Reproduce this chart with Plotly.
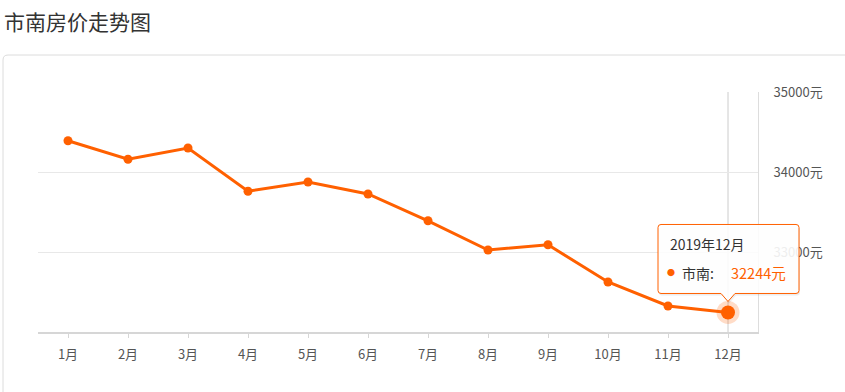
import plotly.graph_objects as go

months = ["1月", "2月", "3月", "4月", "5月", "6月", "7月", "8月", "9月", "10月", "11月", "12月"]
prices = [34390, 34160, 34300, 33760, 33875, 33725, 33390, 33025, 33090, 32625, 32325, 32244]
y_ticks = [33000, 34000, 35000]
y_tick_text = [f"{v}元" for v in y_ticks]
y_range = [32000, 35000]
title_text = "市南房价走势图"
series_name = "市南"
tooltip_title = "2019年12月"

ORANGE = "#ff6000"
FONT = "Noto Sans CJK SC, Microsoft YaHei, sans-serif"

W, H = 845, 392
L, R, T, B = 38, 87, 92, 60
pw, ph = W - L - R, H - T - B

def px_x(p):
    return (p - L) / pw

def px_y(p):
    return (H - B - p) / ph

n = len(months)
x_range = [-0.5, n - 0.5]
last_i = n - 1
# paper-fraction position of the last point (through the axis scales)
last_px = (last_i - x_range[0]) / (x_range[1] - x_range[0])
last_py = (prices[-1] - y_range[0]) / (y_range[1] - y_range[0])

fig = go.Figure()

fig.add_trace(go.Scatter(
    x=list(range(n)), y=prices, mode="lines+markers",
    line=dict(color=ORANGE, width=3),
    marker=dict(color=ORANGE, size=9),
    hoverinfo="skip", showlegend=False, cliponaxis=False,
))
# halo + emphasised dot on the last point
fig.add_trace(go.Scatter(
    x=[last_i], y=[prices[-1]], mode="markers",
    marker=dict(color="rgba(255,96,0,0.22)", size=23, line=dict(width=0)),
    hoverinfo="skip", showlegend=False, cliponaxis=False,
))
fig.add_trace(go.Scatter(
    x=[last_i], y=[prices[-1]], mode="markers",
    marker=dict(color=ORANGE, size=14, line=dict(width=0)),
    hoverinfo="skip", showlegend=False, cliponaxis=False,
))

shapes = []
# card border
cx0, cx1 = px_x(3), px_x(860)
cy0, cy1 = px_y(410), px_y(55)
rx, ry = 5 / pw, 5 / ph
shapes.append(dict(
    type="path", xref="paper", yref="paper", layer="below",
    path=(f"M {cx0},{cy0} L {cx0},{cy1-ry} Q {cx0},{cy1} {cx0+rx},{cy1} "
          f"L {cx1},{cy1}"),
    line=dict(color="#dcdcdc", width=1), fillcolor="rgba(0,0,0,0)",
))
# axis pointer line
shapes.append(dict(
    type="line", xref="x", yref="paper", x0=last_i, x1=last_i, y0=0, y1=1,
    line=dict(color="#cccccc", width=1), layer="below",
))

def tip_path(dx=0, dy=0):
    l, r, b, t, tip = -70 + dx, 71 + dx, 19 + dy, 88 + dy, 11 + dy
    return (f"M {l+3},{t} L {r-3},{t} Q {r},{t} {r},{t-3} "
            f"L {r},{b+3} Q {r},{b} {r-3},{b} L {7+dx},{b} "
            f"L {0+dx},{tip} L {-7+dx},{b} L {l+3},{b} "
            f"Q {l},{b} {l},{b+3} L {l},{t-3} Q {l},{t} {l+3},{t} Z")

for path, fill, line in [
    (tip_path(1, -2), "rgba(0,0,0,0.07)", dict(width=0)),
    (tip_path(), "rgba(255,255,255,0.9)", dict(color=ORANGE, width=1)),
]:
    shapes.append(dict(
        type="path", xref="paper", yref="paper", xsizemode="pixel", ysizemode="pixel",
        xanchor=last_px, yanchor=last_py, path=path,
        fillcolor=fill, line=line, layer="above",
    ))

annotations = [
    dict(text=title_text, xref="paper", yref="paper", x=px_x(2), y=px_y(21),
         xanchor="left", yanchor="middle", showarrow=False,
         font=dict(family=FONT, size=21, color="#333333")),
    dict(text=tooltip_title, xref="x", yref="y", x=last_i, y=prices[-1],
         xshift=-60, yshift=68.5, xanchor="left", yanchor="middle", showarrow=False,
         font=dict(family=FONT, size=14, color="#333333")),
    dict(text="●", xref="x", yref="y", x=last_i, y=prices[-1],
         xshift=-57.5, yshift=39.5, xanchor="center", yanchor="middle", showarrow=False,
         font=dict(family=FONT, size=8, color=ORANGE)),
    dict(text=f"{series_name}:", xref="x", yref="y", x=last_i, y=prices[-1],
         xshift=-48, yshift=39.5, xanchor="left", yanchor="middle", showarrow=False,
         font=dict(family=FONT, size=14, color="#333333")),
    dict(text=f"{prices[-1]}元", xref="x", yref="y", x=last_i, y=prices[-1],
         xshift=1, yshift=39.5, xanchor="left", yanchor="middle", showarrow=False,
         font=dict(family=FONT, size=14.5, color=ORANGE)),
]

fig.update_layout(
    width=W, height=H, margin=dict(l=L, r=R, t=T, b=B),
    paper_bgcolor="white", plot_bgcolor="white",
    font=dict(family=FONT, size=13, color="#555555"),
    shapes=shapes, annotations=annotations, showlegend=False,
    xaxis=dict(
        range=x_range, tickmode="array",
        tickvals=list(range(n)), ticktext=months,
        showgrid=False, zeroline=False, showline=True,
        linecolor="#d6d6d6", linewidth=2,
        ticks="outside", ticklen=4, tickcolor="#d6d6d6", tickwidth=1,
        tickfont=dict(family=FONT, size=13, color="#555555"),
        ticklabelstandoff=5, fixedrange=True,
    ),
    yaxis=dict(
        range=y_range, side="right", tickmode="array",
        tickvals=y_ticks, ticktext=y_tick_text,
        showgrid=True, gridcolor="#e8e8e8", gridwidth=1,
        zeroline=False, showline=True, linecolor="#dddddd", linewidth=1,
        ticks="", ticklabelstandoff=12,
        tickfont=dict(family=FONT, size=13, color="#555555"),
        fixedrange=True,
    ),
)

fig.write_html("out.html", config={"displayModeBar": False},
               post_script="document.body.style.margin='0';")
